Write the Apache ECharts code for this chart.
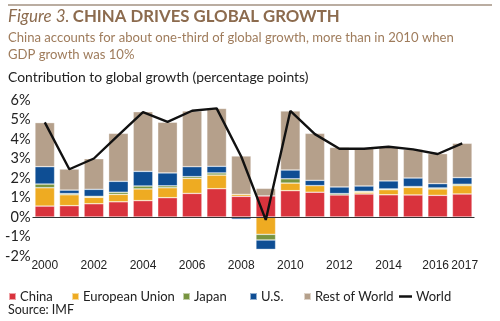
<!DOCTYPE html>
<html>
<head>
<meta charset="utf-8">
<script src="https://cdn.jsdelivr.net/npm/echarts@6/dist/echarts.min.js"></script>
<style>html,body{margin:0;padding:0;background:#fff}#c{width:500px;height:321px}</style>
</head>
<body>
<div id="c"></div>
<script>
var years = ['2000','2001','2002','2003','2004','2005','2006','2007','2008','2009','2010','2011','2012','2013','2014','2015','2016','2017'];
var china = [0.56,0.58,0.68,0.78,0.84,0.99,1.21,1.45,1.06,1.08,1.35,1.27,1.13,1.18,1.14,1.13,1.11,1.18];
var eu    = [0.94,0.56,0.33,0.38,0.60,0.51,0.77,0.70,0.10,-0.89,0.39,0.34,-0.07,0.09,0.26,0.39,0.33,0.43];
var japan = [0.19,0.06,0.05,0.11,0.15,0.10,0.09,0.11,-0.04,-0.29,0.22,-0.03,0.07,0.05,0.04,0.04,0.05,0.07];
var us    = [0.89,0.18,0.36,0.56,0.75,0.66,0.51,0.34,-0.08,-0.48,0.45,0.27,0.34,0.27,0.41,0.44,0.22,0.34];
var rest  = [2.26,1.08,1.57,2.46,3.06,2.60,2.86,2.97,1.97,0.39,3.03,2.41,2.03,1.93,1.75,1.47,1.54,1.76];
var world = [4.85,2.45,3.00,4.20,5.38,4.88,5.45,5.57,3.10,-0.15,5.44,4.25,3.50,3.50,3.60,3.47,3.23,3.78];
var yTicks = [-2,-1,0,1,2,3,4,5,6];

var FONT = 'Lato, "Noto Sans", sans-serif';
var XFONT = '"Liberation Sans", Arial, sans-serif';
var chart = echarts.init(document.getElementById('c'), null, {renderer:'canvas'});

function bar(name, data, color){
  return {name:name, type:'bar', stack:'s', data:data, barCategoryGap:'20%',
    itemStyle:{color:color, borderColor:'rgba(255,255,255,0.55)', borderWidth:0.6}, z:2};
}
function leg(name, left, icon, w, h){
  return {data:[{name:name, icon:icon}], left:left, top:290, itemWidth:w, itemHeight:h, itemGap:0,
    padding:0, textStyle:{fontFamily:FONT, fontSize:13, color:'#222', padding:[0,0,0,-1]}};
}
var option = {
  animation:false,
  textStyle:{fontFamily:FONT},
  grid:{left:32.5, right:25.5, top:100, bottom:65, containLabel:false},
  legend:[
    leg('China',8,'rect',7,7),
    leg('European Union',71,'rect',7,7),
    leg('Japan',182,'rect',7,7),
    leg('U.S.',249,'rect',7,7),
    leg('Rest of World',303,'rect',7,7),
    leg('World',399,'rect',13,2.5)
  ],
  xAxis:{type:'category', data:years, boundaryGap:true,
    axisLine:{show:false, onZero:false}, axisTick:{show:false},
    axisLabel:{fontFamily:XFONT, fontSize:12, color:'#222', margin:4,
      showMaxLabel:true, showMinLabel:true, hideOverlap:false,
      interval:function(i){return i%2===0 || i===years.length-1;},
      formatter:function(v,i){
        if(i===years.length-2) return '{l|'+v+'}';
        if(i===years.length-1) return '{r|'+v+'}';
        return v;
      },
      rich:{l:{fontFamily:XFONT, fontSize:12, color:'#222', padding:[0,4,0,0]},
            r:{fontFamily:XFONT, fontSize:12, color:'#222', padding:[0,0,0,5]}}}},
  yAxis:{type:'value', min:yTicks[0], max:yTicks[yTicks.length-1], interval:1,
    splitLine:{show:false}, axisLine:{show:false}, axisTick:{show:false},
    axisLabel:{formatter:'{value}%', fontFamily:FONT, fontSize:14.5, color:'#222', margin:2}},
  series:[
    bar('China', china, '#d9333d'),
    bar('European Union', eu, '#eeab22'),
    bar('Japan', japan, '#789440'),
    bar('U.S.', us, '#0e4e94'),
    bar('Rest of World', rest, '#b5a08b'),
    {name:'World', type:'line', data:world, symbol:'none', z:5,
      lineStyle:{color:'#111', width:2.4}, itemStyle:{color:'#111'},
      markLine:{silent:true, symbol:'none', label:{show:false}, z:4,
        lineStyle:{color:'#333', width:1, type:'solid'}, data:[{yAxis:0}]}}
  ],
  graphic:[
    {type:'line', shape:{x1:8, y1:5, x2:492, y2:5}, style:{stroke:'#a39282', lineWidth:1.5}},
    {type:'text', left:8, top:8, style:{text:'{i|Figure 3.} {b|CHINA DRIVES GLOBAL GROWTH}',
      rich:{i:{fontFamily:FONT, fontStyle:'italic', fontSize:17, fill:'#8c6b4e'},
            b:{fontFamily:FONT, fontWeight:'bold', fontSize:16.8, fill:'#8c6b4e'}}}},
    {type:'text', left:8, top:29, style:{text:'China accounts for about one-third of global growth, more than in 2010 when\nGDP growth was 10%',
      fontFamily:FONT, fontSize:13.1, lineHeight:17, fill:'#9f7c5c'}},
    {type:'text', left:8, top:71, style:{text:'Contribution to global growth (percentage points)',
      fontFamily:FONT, fontSize:13.9, fill:'#222'}},
    {type:'text', left:8, top:303, style:{text:'Source: IMF', fontFamily:FONT, fontSize:12.5, fill:'#222'}}
  ]
};
chart.setOption(option);
</script>
</body>
</html>
